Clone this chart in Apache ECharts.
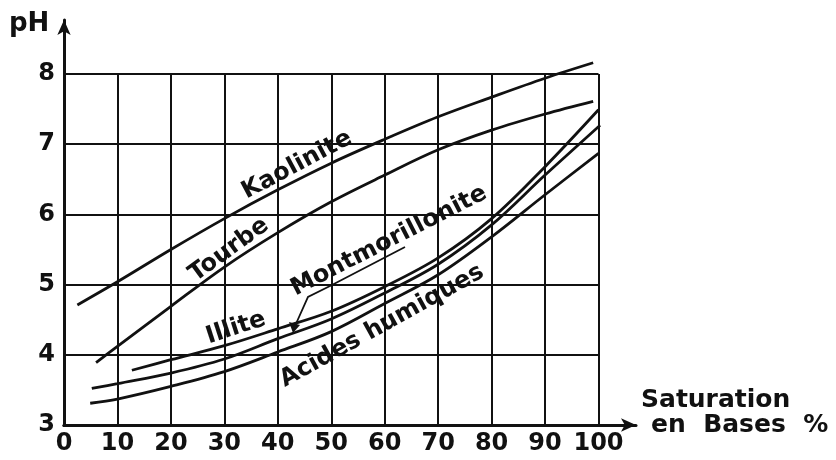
<!DOCTYPE html>
<html>
<head>
<meta charset="utf-8">
<script src="https://cdn.jsdelivr.net/npm/echarts@6/dist/echarts.min.js"></script>
<style>
  html, body { margin: 0; padding: 0; background: #fff; }
  #chart { width: 836px; height: 460px; }
</style>
</head>
<body>
<div id="chart"></div>
<script>
// pH versus base saturation (%) for several soil materials
const kaoliniteX = [2.5, 10, 20, 30, 40, 50, 60, 70, 80, 90, 99];
const kaoliniteY = [4.71, 5.04, 5.5, 5.94, 6.35, 6.73, 7.07, 7.39, 7.67, 7.94, 8.16];

const tourbeX = [6, 10, 20, 30, 40, 50, 60, 70, 80, 90, 99];
const tourbeY = [3.89, 4.12, 4.69, 5.25, 5.74, 6.18, 6.56, 6.92, 7.2, 7.43, 7.61];

const illiteX = [12.7, 20, 30, 40, 50, 60, 70, 80, 90, 100];
const illiteY = [3.78, 3.93, 4.13, 4.37, 4.62, 4.97, 5.38, 5.94, 6.68, 7.49];

const montmoX = [5.2, 10, 20, 30, 40, 50, 60, 70, 80, 90, 100.3];
const montmoY = [3.52, 3.59, 3.74, 3.94, 4.23, 4.51, 4.88, 5.29, 5.85, 6.56, 7.27];

const acidesX = [4.9, 10, 20, 30, 40, 50, 60, 70, 80, 90, 100];
const acidesY = [3.31, 3.37, 3.55, 3.76, 4.04, 4.33, 4.73, 5.14, 5.68, 6.28, 6.87];

const xTicks = [0, 10, 20, 30, 40, 50, 60, 70, 80, 90, 100];
const yTicks = [3, 4, 5, 6, 7, 8];

const pairs = (xs, ys) => xs.map((x, i) => [x, ys[i]]);

const ink = "#111";
const font = (size) => `bold ${size}px "DejaVu Sans"`;

function curve(name, xs, ys) {
  return {
    name,
    type: "line",
    xAxisIndex: 0,
    yAxisIndex: 0,
    data: pairs(xs, ys),
    smooth: 0.35,
    clip: false,
    symbol: "none",
    lineStyle: { color: ink, width: 2.8 },
    silent: true,
  };
}

function label(text, x, y, deg, size) {
  return {
    type: "text",
    x,
    y,
    rotation: (deg * Math.PI) / 180,
    style: {
      text,
      font: font(size),
      fill: ink,
      align: "center",
      verticalAlign: "middle",
    },
  };
}

const tickLabel = {
  color: ink,
  fontFamily: "DejaVu Sans",
  fontWeight: "bold",
  fontSize: 24,
};

const chart = echarts.init(document.getElementById("chart"));

chart.setOption({
  animation: false,
  backgroundColor: "#fff",
  grid: [
    { left: 64, right: 237.5, top: 74, bottom: 35 },
    { left: 64, right: 200, top: 20, bottom: 35 },
  ],
  xAxis: [
    {
      type: "value",
      gridIndex: 0,
      min: xTicks[0],
      max: xTicks[xTicks.length - 1],
      interval: 10,
      axisLine: { show: true, lineStyle: { color: ink, width: 3 } },
      axisTick: { show: false },
      axisLabel: { ...tickLabel, margin: 7 },
      splitLine: { show: true, lineStyle: { color: ink, width: 2 } },
    },
    {
      type: "value",
      gridIndex: 1,
      min: 0,
      max: 1,
      axisLine: {
        show: true,
        onZero: false,
        symbol: ["none", "arrow"],
        symbolSize: [10, 15],
        lineStyle: { color: ink, width: 3 },
      },
      axisTick: { show: false },
      axisLabel: { show: false },
      splitLine: { show: false },
    },
  ],
  yAxis: [
    {
      type: "value",
      gridIndex: 0,
      min: yTicks[0],
      max: yTicks[yTicks.length - 1],
      interval: 1,
      axisLine: { show: true, lineStyle: { color: ink, width: 3 } },
      axisTick: { show: false },
      axisLabel: { ...tickLabel, margin: 9 },
      splitLine: { show: true, lineStyle: { color: ink, width: 2 } },
    },
    {
      type: "value",
      gridIndex: 1,
      min: 0,
      max: 1,
      axisLine: {
        show: true,
        onZero: false,
        symbol: ["none", "arrow"],
        symbolSize: [10, 15],
        lineStyle: { color: ink, width: 3 },
      },
      axisTick: { show: false },
      axisLabel: { show: false },
      splitLine: { show: false },
    },
  ],
  series: [
    curve("Kaolinite", kaoliniteX, kaoliniteY),
    curve("Tourbe", tourbeX, tourbeY),
    curve("Illite", illiteX, illiteY),
    curve("Montmorillonite", montmoX, montmoY),
    curve("Acides humiques", acidesX, acidesY),
  ],
  graphic: [
    {
      type: "text",
      left: 9,
      top: 11,
      style: { text: "pH", font: font(26), fill: ink },
    },
    {
      type: "text",
      left: 641,
      top: 388,
      style: { text: "Saturation", font: font(25), fill: ink },
    },
    {
      type: "text",
      left: 651,
      top: 413,
      style: { text: "en  Bases  %", font: font(25), fill: ink },
    },
    label("Kaolinite", 297, 165, 28, 24),
    label("Tourbe", 229, 250, 36, 24),
    label("Illite", 236, 328, 18, 24),
    label("Montmorillonite", 389, 241, 27, 24),
    label("Acides humiques", 382, 326, 29, 24),
    // underline and leader arrow for Montmorillonite
    {
      type: "polyline",
      shape: { points: [[405, 247], [330, 286], [308, 297], [295, 326]] },
      style: { stroke: ink, lineWidth: 1.8, fill: null },
    },
    {
      type: "polygon",
      shape: { points: [[293, 333], [289, 322], [300, 325]] },
      style: { fill: ink },
    },
  ],
});
</script>
</body>
</html>
